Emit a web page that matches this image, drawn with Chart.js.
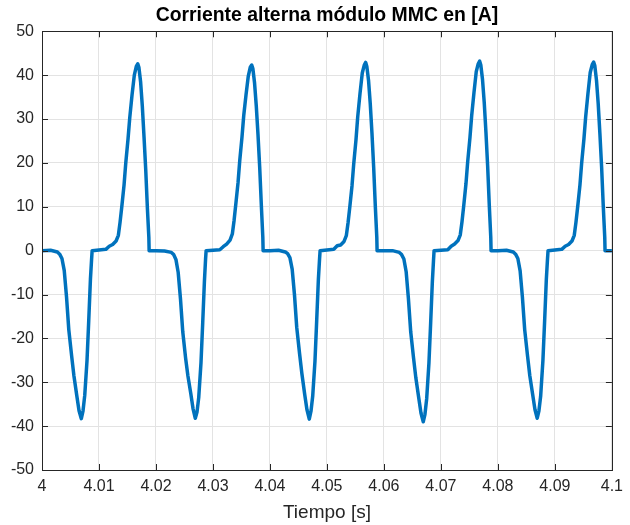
<!DOCTYPE html>
<html>
<head>
<meta charset="utf-8">
<script src="https://cdn.jsdelivr.net/npm/chart.js@4/dist/chart.umd.min.js"></script>
<style>
    html, body { margin: 0; padding: 0; background: #ffffff; }
    #chart-wrap { width: 630px; height: 525px; }
</style>
</head>
<body>
<div id="chart-wrap"><canvas id="mmc-chart" width="630" height="525"></canvas></div>
<script>
// one array pair per 20 ms cycle
const cycle1Time = [4.0000, 4.0015, 4.0027, 4.0031, 4.0035, 4.0039, 4.0043, 4.0047, 4.0052, 4.0056, 4.0061, 4.0065, 4.0069, 4.0072, 4.0075, 4.0079, 4.0082, 4.0085, 4.0087, 4.0088, 4.0112, 4.0118, 4.0124, 4.0130, 4.0134, 4.0137, 4.0140, 4.0144, 4.0147, 4.0151, 4.0154, 4.0158, 4.0162, 4.01655, 4.0168, 4.0170, 4.0173, 4.0176, 4.0179, 4.0182, 4.0185, 4.01875, 4.0188];
const cycle1Amps = [0, 0.1, -0.3, -0.8, -1.8, -4.5, -10.5, -18, -24, -28.5, -33, -36.5, -38.3, -36.5, -33, -25, -16, -6.5, -2, 0, 0.3, 1.0, 1.4, 2.2, 3.5, 6.5, 10, 15, 20, 25.5, 30.3, 35.5, 40, 42, 42.6, 41.8, 38.5, 33, 26, 18.5, 9.5, 3, 0];

const cycle2Time = [4.0200, 4.0215, 4.0227, 4.0231, 4.0235, 4.0239, 4.0243, 4.0247, 4.0252, 4.0256, 4.0261, 4.0265, 4.0269, 4.0272, 4.0275, 4.0279, 4.0282, 4.0285, 4.0287, 4.0288, 4.0312, 4.0318, 4.0324, 4.0330, 4.0334, 4.0337, 4.0340, 4.0344, 4.0347, 4.0351, 4.0354, 4.0358, 4.0362, 4.03655, 4.0368, 4.0370, 4.0373, 4.0376, 4.0379, 4.0382, 4.0385, 4.03875, 4.0388];
const cycle2Amps = [0, -0.1, -0.4, -0.9, -2, -5, -11, -18.5, -24.5, -28.5, -32.5, -36, -38.2, -36.8, -33.5, -25.5, -16.5, -7, -2, 0, 0.2, 0.9, 1.5, 2.4, 3.8, 6.8, 10.5, 15.5, 20.5, 26, 30.8, 35.5, 39.8, 41.8, 42.3, 41.5, 38.2, 33, 26.5, 19, 10, 3, 0];

const cycle3Time = [4.0400, 4.0415, 4.0427, 4.0431, 4.0435, 4.0439, 4.0443, 4.0447, 4.0452, 4.0456, 4.0461, 4.0465, 4.0469, 4.0472, 4.0475, 4.0479, 4.0482, 4.0485, 4.0487, 4.0488, 4.0512, 4.0518, 4.0524, 4.0530, 4.0534, 4.0537, 4.0540, 4.0544, 4.0547, 4.0551, 4.0554, 4.0558, 4.0562, 4.05655, 4.0568, 4.0570, 4.0573, 4.0576, 4.0579, 4.0582, 4.0585, 4.05875, 4.0588];
const cycle3Amps = [0, 0.1, -0.3, -0.7, -1.6, -4.2, -10, -17.5, -23.5, -28, -32.8, -36.3, -38.4, -36.6, -33.2, -25.2, -16, -6.5, -2, 0, 0.3, 1.1, 1.3, 2.1, 3.4, 6.3, 9.8, 14.8, 19.8, 25.3, 30.5, 35.8, 40.5, 42.3, 42.9, 42, 38.8, 33.5, 26.8, 19, 9.8, 3, 0];

const cycle4Time = [4.0600, 4.0615, 4.0627, 4.0631, 4.0635, 4.0639, 4.0643, 4.0647, 4.0652, 4.0656, 4.0661, 4.0665, 4.0669, 4.0672, 4.0675, 4.0679, 4.0682, 4.0685, 4.0687, 4.0688, 4.0712, 4.0718, 4.0724, 4.0730, 4.0734, 4.0737, 4.0740, 4.0744, 4.0747, 4.0751, 4.0754, 4.0758, 4.0762, 4.07655, 4.0768, 4.0770, 4.0773, 4.0776, 4.0779, 4.0782, 4.0785, 4.07875, 4.0788];
const cycle4Amps = [0, 0, -0.4, -0.9, -1.9, -4.8, -11, -18.5, -24.5, -29, -33.5, -37, -39.0, -37.3, -33.8, -25.6, -16.5, -7, -2.2, 0, 0.2, 1.0, 1.5, 2.3, 3.6, 6.6, 10.2, 15.3, 20.3, 25.8, 30.8, 36, 40.8, 42.6, 43.2, 42.3, 39, 33.8, 27, 19.3, 10, 3, 0];

const cycle5Time = [4.0800, 4.0815, 4.0827, 4.0831, 4.0835, 4.0839, 4.0843, 4.0847, 4.0852, 4.0856, 4.0861, 4.0865, 4.0869, 4.0872, 4.0875, 4.0879, 4.0882, 4.0885, 4.0887, 4.0888, 4.0912, 4.0918, 4.0924, 4.0930, 4.0934, 4.0937, 4.0940, 4.0944, 4.0947, 4.0951, 4.0954, 4.0958, 4.0962, 4.09655, 4.0968, 4.0970, 4.0973, 4.0976, 4.0979, 4.0982, 4.0985, 4.09875, 4.0988, 4.1000];
const cycle5Amps = [0, 0.1, -0.3, -0.8, -1.8, -4.6, -10.6, -18, -24, -28.5, -32.8, -36.2, -38.2, -36.5, -33.2, -25, -16, -6.5, -2, 0, 0.3, 1.0, 1.4, 2.2, 3.5, 6.5, 10, 15, 20, 25.5, 30.5, 35.8, 40.6, 42.4, 43.0, 42.2, 38.8, 33.5, 26.6, 19, 9.8, 3, 0, 0];

const xTicks = [4, 4.01, 4.02, 4.03, 4.04, 4.05, 4.06, 4.07, 4.08, 4.09, 4.1];
const yTicks = [-50, -40, -30, -20, -10, 0, 10, 20, 30, 40, 50];

const chartTitle = 'Corriente alterna módulo MMC en [A]';
const xTitle = 'Tiempo [s]';

const axisColor = '#262626';
const gridColor = '#e3e3e3';
const lineColor = '#0072BD';
const fontFamily = 'Liberation Sans, Arial, sans-serif';

const allTime = [].concat(cycle1Time, cycle2Time, cycle3Time, cycle4Time, cycle5Time);
const allAmps = [].concat(cycle1Amps, cycle2Amps, cycle3Amps, cycle4Amps, cycle5Amps);
const points = allTime.map((t, i) => ({ x: t, y: allAmps[i] }));

// matlab style box with ticks pointing inward, title centred over the axes
const boxPlugin = {
    id: 'boxTicks',
    afterLayout(chart) {
        const t = chart.titleBlock;
        if (t) {
            t.left = chart.chartArea.left;
            t.right = chart.chartArea.right;
            t.width = t.right - t.left;
        }
    },
    afterDraw(chart) {
        const ctx = chart.ctx;
        const area = chart.chartArea;
        const xs = chart.scales.x;
        const ys = chart.scales.y;
        const len = 6;
        ctx.save();
        ctx.strokeStyle = axisColor;
        ctx.lineWidth = 1;
        ctx.beginPath();
        xTicks.forEach(v => {
            const px = Math.round(xs.getPixelForValue(v)) + 0.5;
            ctx.moveTo(px, area.bottom);
            ctx.lineTo(px, area.bottom - len);
            ctx.moveTo(px, area.top);
            ctx.lineTo(px, area.top + len);
        });
        yTicks.forEach(v => {
            const py = Math.round(ys.getPixelForValue(v)) + 0.5;
            ctx.moveTo(area.left, py);
            ctx.lineTo(area.left + len, py);
            ctx.moveTo(area.right, py);
            ctx.lineTo(area.right - len, py);
        });
        ctx.stroke();
        ctx.strokeRect(Math.round(area.left) + 0.5, Math.round(area.top) + 0.5,
            Math.round(area.right - area.left), Math.round(area.bottom - area.top));
        ctx.restore();
    }
};

const ctx = document.getElementById('mmc-chart').getContext('2d');

new Chart(ctx, {
    type: 'line',
    data: {
        datasets: [{
            label: 'i_ac',
            data: points,
            borderColor: lineColor,
            borderWidth: 3.5,
            borderJoinStyle: 'round',
            borderCapStyle: 'round',
            pointRadius: 0,
            tension: 0,
            fill: false
        }]
    },
    options: {
        responsive: false,
        animation: false,
        layout: { padding: { top: 0, left: 0, right: 12, bottom: 0 } },
        plugins: {
            legend: { display: false },
            tooltip: { enabled: false },
            title: {
                display: true,
                text: chartTitle,
                color: '#000000',
                font: { family: fontFamily, size: 19.4, weight: 'bold' },
                padding: { top: 4, bottom: 4 }
            }
        },
        scales: {
            x: {
                type: 'linear',
                min: 4,
                max: 4.1,
                afterFit(scale) { scale.height = 55; },
                afterBuildTicks(scale) { scale.ticks = xTicks.map(v => ({ value: v })); },
                ticks: {
                    autoSkip: false,
                    maxRotation: 0,
                    padding: 7,
                    color: axisColor,
                    font: { family: fontFamily, size: 16 },
                    callback: v => String(Number(v.toFixed(2)))
                },
                grid: { color: gridColor, drawTicks: false },
                border: { display: false },
                title: {
                    display: true,
                    text: xTitle,
                    color: axisColor,
                    font: { family: fontFamily, size: 19 },
                    padding: { top: 0, bottom: 1 }
                }
            },
            y: {
                min: -50,
                max: 50,
                afterFit(scale) { scale.width = 42; },
                afterBuildTicks(scale) { scale.ticks = yTicks.map(v => ({ value: v })); },
                ticks: {
                    padding: 8,
                    color: axisColor,
                    font: { family: fontFamily, size: 16 }
                },
                grid: { color: gridColor, drawTicks: false },
                border: { display: false }
            }
        }
    },
    plugins: [boxPlugin]
});
</script>
</body>
</html>
